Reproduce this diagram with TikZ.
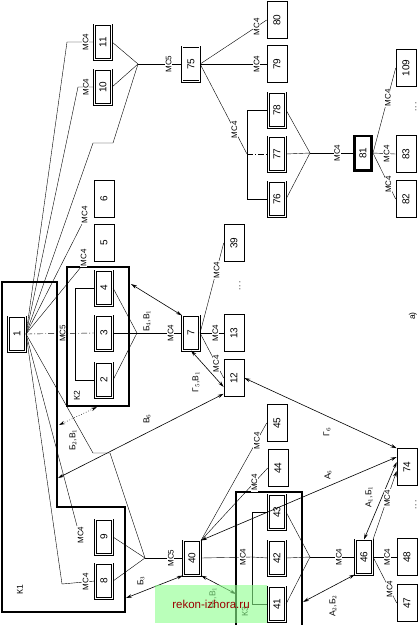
\documentclass[tikz,border=0pt]{standalone}
\usepackage{fontspec}
\setmainfont{Liberation Sans}
\usetikzlibrary{arrows.meta}
\newcommand{\rt}[1]{\rotatebox{90}{#1}}

\begin{document}
\begin{tikzpicture}[x=1pt,y=-1pt,
    box/.style={draw,line width=0.6pt,minimum width=20pt,minimum height=37pt,
                inner sep=0pt,font=\fontsize{10}{12}\selectfont},
    dbox/.style={box,double,line width=0.8pt,double distance=1.1pt,
                 minimum width=17.3pt,minimum height=34.3pt},
    lbox/.style={box,double,line width=0.7pt,double distance=1pt,
                 minimum width=17.6pt,minimum height=34.6pt},
    hbox/.style={box,line width=2.6pt,minimum width=17.4pt,minimum height=34.4pt},
    grp/.style={line width=1.3pt},
    mc/.style={font=\fontsize{8}{9}\selectfont,inner sep=0.6pt,fill=white},
    lbl/.style={font=\fontsize{8.5}{10}\selectfont,inner sep=1pt},
    arr/.style={<->,>={Stealth[length=6pt,width=3.4pt]},line width=0.6pt},
    dashdot/.style={dash pattern=on 6pt off 2pt on 1pt off 2pt}
]
\useasboundingbox (0,0) rectangle (420,625);
\clip (0,0) rectangle (420,625);

% groups K1, K2, K3
\draw[grp] (2,282) -- (57,282) -- (57,507) -- (125,507) -- (125,612) -- (2,612) -- cycle;
\draw[grp] (67,267) rectangle (129,406);
\draw[grp] (236,492) rectangle (302,640);
\node[lbl] (k1) at (20,590) {\rt{К1}};
\node[lbl] (k2) at (77,396) {\rt{К2}};
\node[lbl] (k3) at (245,612) {\rt{К3}};

% blocks
\node[dbox] (n1)   at (17,334)  {\rt{1}};
\node[dbox] (n11)  at (103,42)  {\rt{11}};
\node[dbox] (n10)  at (103,87)  {\rt{10}};
\node[box]  (n6)   at (104,199) {\rt{6}};
\node[box]  (n5)   at (104,243) {\rt{5}};
\node[dbox] (n4)   at (104,288) {\rt{4}};
\node[dbox] (n3)   at (104,333) {\rt{3}};
\node[dbox] (n2)   at (104,380) {\rt{2}};
\node[dbox] (n9)   at (104,537) {\rt{9}};
\node[dbox] (n8)   at (104,581) {\rt{8}};
\node[lbox] (n75)  at (191,64)  {\rt{75}};
\node[dbox] (n7)   at (191,333) {\rt{7}};
\node[dbox] (n40)  at (192,558) {\rt{40}};
\node[box]  (n39)  at (234,243) {\rt{39}};
\node[box]  (n13)  at (234,333) {\rt{13}};
\node[box]  (n12)  at (234,378) {\rt{12}};
\node[box]  (n80)  at (277,20)  {\rt{80}};
\node[box]  (n79)  at (277,64)  {\rt{79}};
\node[dbox] (n78)  at (277,110) {\rt{78}};
\node[dbox] (n77)  at (277,154) {\rt{77}};
\node[dbox] (n76)  at (277,199) {\rt{76}};
\node[box]  (n45)  at (277,423) {\rt{45}};
\node[box]  (n44)  at (278,468) {\rt{44}};
\node[dbox] (n43)  at (277,512) {\rt{43}};
\node[dbox] (n42)  at (277,558) {\rt{42}};
\node[dbox] (n41)  at (277,604) {\rt{41}};
\node[hbox] (n81)  at (363,153) {\rt{81}};
\node[dbox] (n46)  at (364,557) {\rt{46}};
\node[box]  (n109) at (406,68)  {\rt{109}};
\node[box]  (n83)  at (406,154) {\rt{83}};
\node[box]  (n82)  at (406,199) {\rt{82}};
\node[box]  (n74)  at (407,467) {\rt{74}};
\node[box]  (n48)  at (407,557) {\rt{48}};
\node[box]  (n47)  at (407,603) {\rt{47}};

% junctions and free ends
\coordinate (j75) at (138,64);
\coordinate (b76) at (247,154);
\coordinate (j76) at (310,153);
\coordinate (jK2) at (137,333);
\coordinate (j40) at (145,558);
\coordinate (b43) at (252,557);
\coordinate (jK3) at (310,557);
\coordinate (e6)  at (82,224);
\coordinate (e5)  at (81,267);
\coordinate (e9)  at (77,526);
\coordinate (a4)  at (131,284);
\coordinate (k1a) at (59,425);
\coordinate (k2b) at (97,407);
\coordinate (k1b) at (58,478);
\coordinate (k1c) at (126,598);
\coordinate (k3a) at (236,594);
\coordinate (k3b) at (303,602);

% from block 1
\draw (n1.east) -- (67,42) -- node[mc,pos=.69]{\rt{МС4}} (n11.west);
\draw (n1.east) -- (78,87) -- node[mc,pos=.5]{\rt{МС4}} (n10.west);
\draw (n1.east) -- (93,143) -- (113,143) -- (j75);
\draw (n1.east) -- (e6) node[mc,anchor=south west,inner sep=0.5pt,xshift=-1pt]{\rt{МС4}};
\draw (n1.east) -- (e5) node[mc,anchor=south west,inner sep=0.5pt,xshift=-1pt]{\rt{МС4}};
\draw[dashdot] (n1.east) -- node[mc,pos=.53]{\rt{МС5}} (n3.west);
\draw (n1.east) -- (e9) node[mc,anchor=north west,inner sep=0.5pt]{\rt{МС4}};
\draw (n1.east) -- (62,584) -- node[mc,pos=.72]{\rt{МС4}} (n8.west);
\draw (n1.east) -- (93,453) -- (110,453) -- (j40);

% block 75 and its group
\draw (n11.east) -- (j75);
\draw (n10.east) -- (j75);
\draw (j75) -- node[mc,pos=.7]{\rt{МС5}} (n75.west);
\draw (n75.east) -- node[mc,pos=.85]{\rt{МС4}} (n80.west);
\draw (n75.east) -- node[mc,pos=.85]{\rt{МС4}} (n79.west);
\draw (n75.east) -- node[mc,pos=.73]{\rt{МС4}} (b76);
\draw (n78.west) -- (n78.west -| b76) -- (n76.west -| b76) -- (n76.west);
\draw[dashdot] (b76) -- (n77.west);
\draw (n78.east) -- (j76);
\draw (n77.east) -- (j76);
\draw (n76.east) -- (j76);
\draw (j76) -- node[mc,pos=.63]{\rt{МС4}} (n81.west);
\draw (n81.east) -- node[mc,pos=.6]{\rt{МС4}} (n83.west);
\draw (n81.east) -- node[mc,pos=.68]{\rt{МС4}} (n82.west);
\draw (n81.east) -- node[mc,pos=.65]{\rt{МС4}} (n109.west);
\node[lbl] (d81) at (416,107) {\rt{.\,.\,.}};

% group K2 and block 7
\draw (n4.west) -- ++(-20,0) |- (n2.west);
\draw (n4.east) -- (jK2);
\draw (n3.east) -- (jK2);
\draw (n2.east) -- (jK2);
\draw (jK2) -- node[mc,pos=.75]{\rt{МС4}} (n7.west);
\draw[arr] (a4) -- (n7.north west);
\node[lbl] (l47) at (147,321) {\rt{Б$_4$,В$_1$}};
\draw (n7.east) -- node[mc,pos=.65]{\rt{МС4}} (n13.west);
\draw (n7.east) -- node[mc,pos=.7]{\rt{МС4}} (n39.west);
\draw (n7.east) -- node[mc,pos=.68]{\rt{МС4}} (n12.west);
\draw[arr] (n7.south) -- ([yshift=-9pt]n12.west);
\node[lbl] (l712) at (196,382) {\rt{Г$_5$,В$_1$}};
\node[lbl] (d13) at (240,286) {\rt{.\,.\,.}};

% links between K1, K2, 12, 74
\draw[arr,dotted] (k1a) -- (k2b);
\node[lbl] (lk12) at (73,440) {\rt{Б$_2$,В$_1$}};
\draw[arr] (k1b) -- ([yshift=3pt]n12.south west);
\node[lbl] (lb6) at (147,419) {\rt{В$_6$}};
\draw[arr] (n12.east) -- (n74.north west);
\node[lbl] (lg6) at (327,432) {\rt{Г$_6$}};

% blocks 8, 9 and 40
\draw (n9.east) -- (j40);
\draw (n8.east) -- (j40);
\draw (j40) -- node[mc,pos=.68]{\rt{МС5}} (n40.west);
\draw[arr] (k1c) -- (n40.south west);
\node[lbl] (lb3) at (141,581) {\rt{Б$_3$}};
\draw[arr] (n40.south east) -- (k3a);
\node[lbl] (lb5) at (213,598) {\rt{Б$_5$,В$_1$}};
\draw (n40.north east) -- node[mc,pos=.8]{\rt{МС4}} (n44.west);
\draw (n40.north east) -- node[mc,pos=.85]{\rt{МС4}} (n45.west);
\draw[arr] (n40.north east) -- ([yshift=10pt]n74.west);
\node[lbl] (la6) at (328,475) {\rt{А$_6$}};

% group K3 and block 46
\draw (n40.east) -- node[mc,pos=.82]{\rt{МС4}} (b43) -- (n42.west);
\draw (n43.west) -- (n43.west -| b43) -- (n41.west -| b43) -- (n41.west);
\draw (n43.east) -- (jK3);
\draw (n42.east) -- (jK3);
\draw (n41.east) -- (jK3);
\draw (jK3) -- node[mc,pos=.64]{\rt{МС4}} (n46.west);
\draw (n46.east) -- node[mc,pos=.6]{\rt{МС4}} (n48.west);
\draw (n46.east) -- node[mc,pos=.7]{\rt{МС4}} (n47.west);
\draw[arr] (n46.north) -- ([yshift=5pt]n74.west);
\node[lbl] (la1) at (369,497) {\rt{А$_1$,Б$_1$}};
\draw[->,>={Stealth[length=6pt,width=3.4pt]}] (n46.north east) -- node[mc,pos=.6]{\rt{МС4}} ([yshift=-4pt]n74.west);
\draw[arr] (n46.south west) -- (k3b);
\node[lbl] (la2) at (333,606) {\rt{А$_2$,Б$_2$}};
\node[lbl] (d74) at (416,505) {\rt{.\,.\,.}};

\node[lbl] (fig) at (413,316) {\rt{а)}};

% watermark
\node[fill=green!45!white,fill opacity=0.6,text opacity=1,text=red!60!black,
      minimum width=112pt,minimum height=38pt,inner sep=0pt,
      font=\fontsize{11.5}{13}\selectfont] (wm) at (211,604) {rekon-izhora.ru};
\end{tikzpicture}
\end{document}
